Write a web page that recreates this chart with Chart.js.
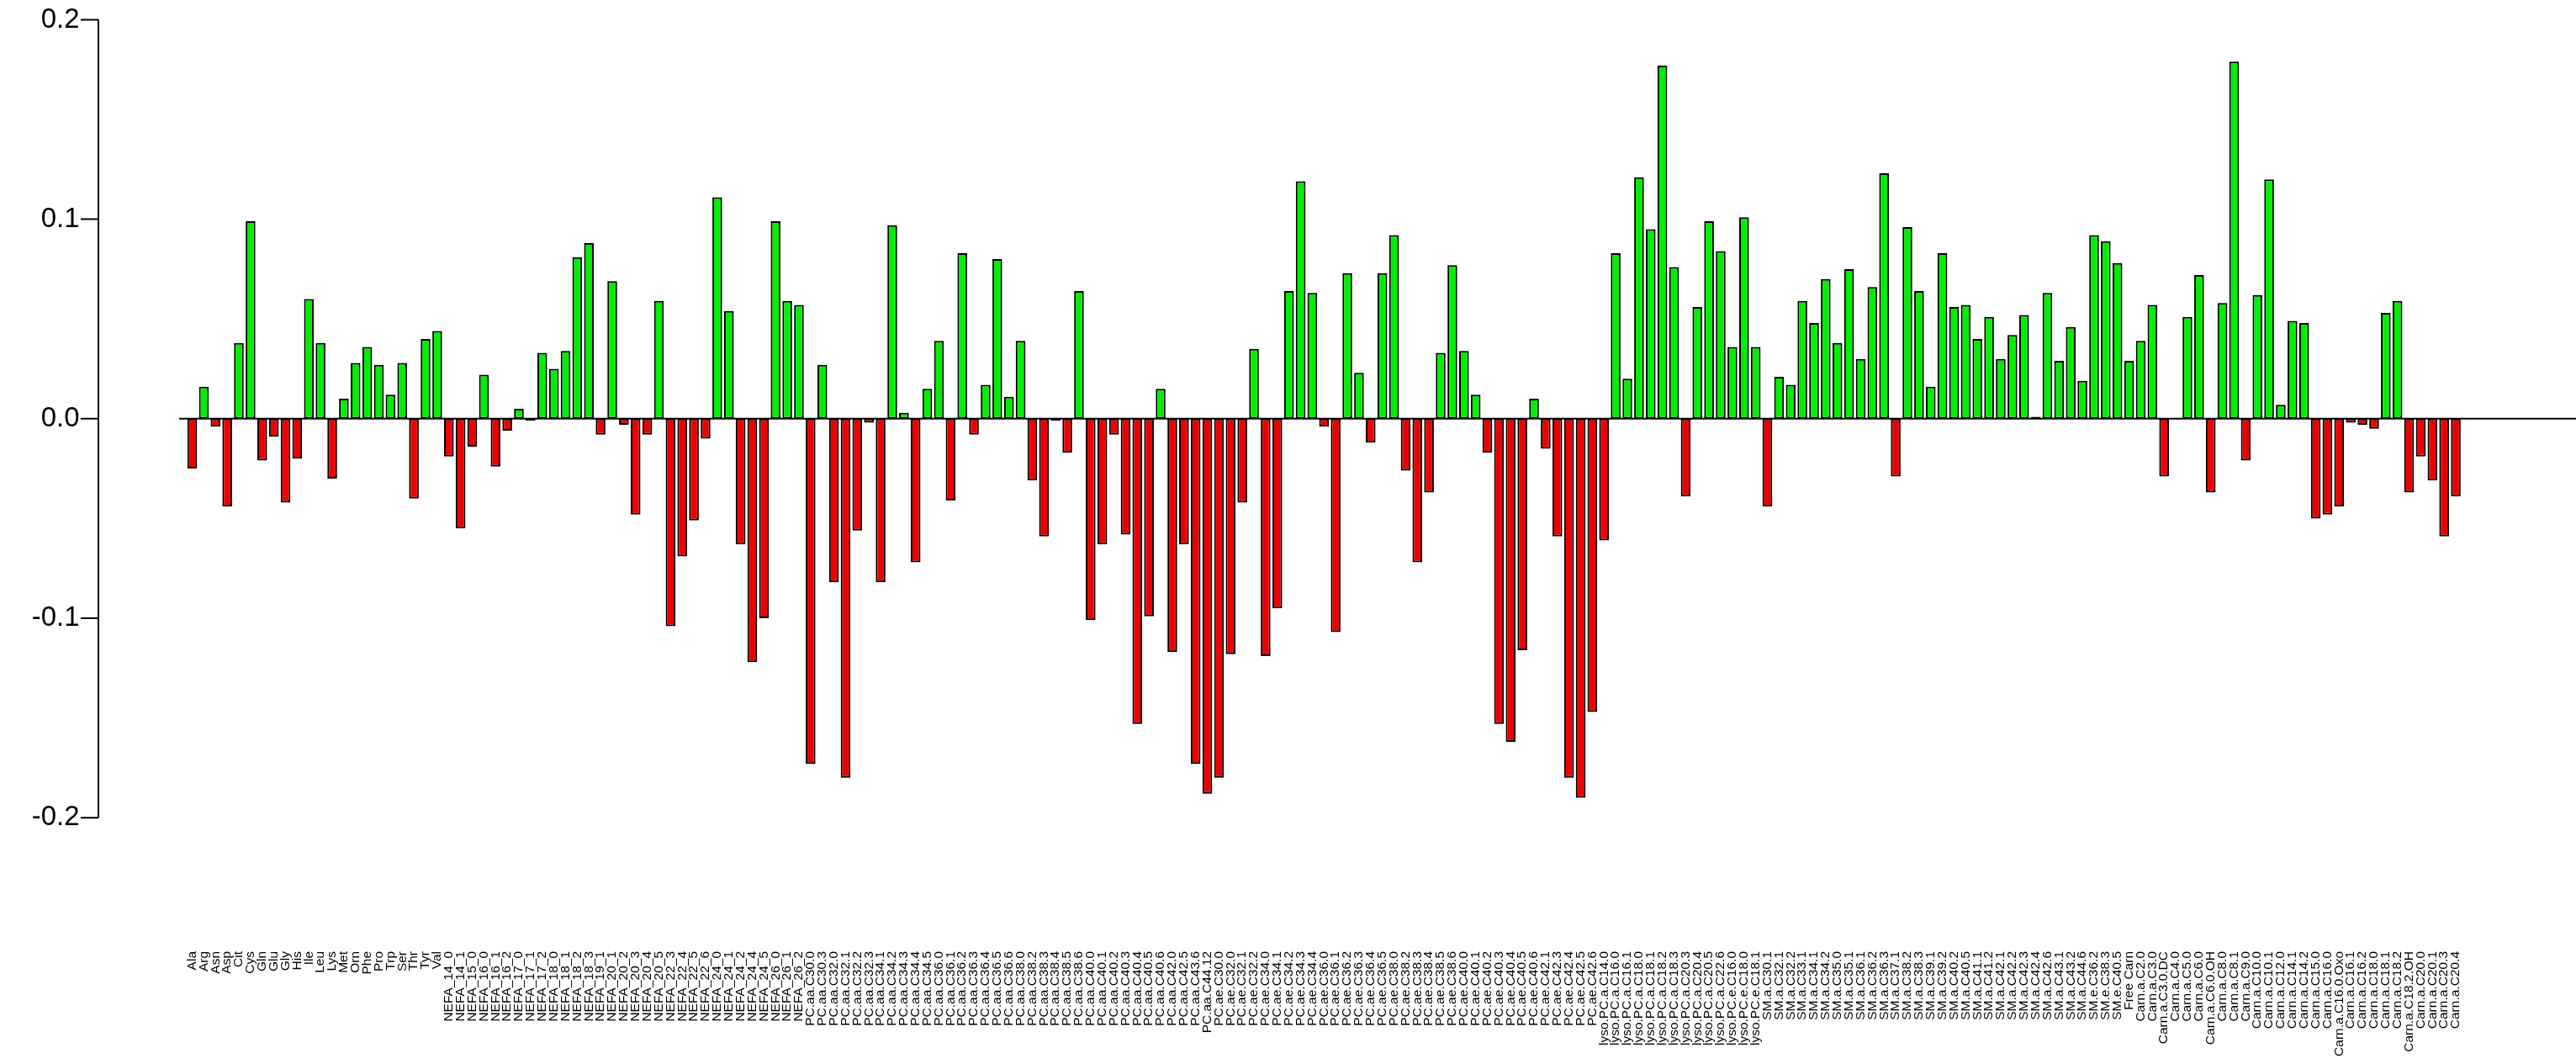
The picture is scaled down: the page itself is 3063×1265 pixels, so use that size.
<!DOCTYPE html>
<html>
<head>
<meta charset="utf-8">
<title>Loadings</title>
<script src="https://cdn.jsdelivr.net/npm/chart.js@4.4.1/dist/chart.umd.min.js"></script>
<style>
  html, body { margin: 0; padding: 0; background: #fff; }
  #wrap { width: 3063px; height: 1265px; position: relative; }
</style>
</head>
<body>
<div id="wrap"><canvas id="chart"></canvas></div>
<script>
// --- data ---
const aaLabels = ['Ala', 'Arg', 'Asn', 'Asp', 'Cit', 'Cys', 'Gln', 'Glu', 'Gly', 'His', 'Ile',
    'Leu', 'Lys', 'Met', 'Orn', 'Phe', 'Pro', 'Trp', 'Ser', 'Thr', 'Tyr', 'Val'];
const aaValues = [-0.025, 0.016, -0.004, -0.044, 0.038, 0.099, -0.021, -0.009, -0.042, -0.020, 0.060,
    0.038, -0.030, 0.010, 0.028, 0.036, 0.027, 0.012, 0.028, -0.040, 0.040, 0.044];

const nefaLabels = ['NEFA_14_0', 'NEFA_14_1', 'NEFA_15_0', 'NEFA_16_0', 'NEFA_16_1', 'NEFA_16_2',
    'NEFA_17_0', 'NEFA_17_1', 'NEFA_17_2', 'NEFA_18_0', 'NEFA_18_1', 'NEFA_18_2', 'NEFA_18_3',
    'NEFA_19_1', 'NEFA_20_1', 'NEFA_20_2', 'NEFA_20_3', 'NEFA_20_4', 'NEFA_20_5', 'NEFA_22_3',
    'NEFA_22_4', 'NEFA_22_5', 'NEFA_22_6', 'NEFA_24_0', 'NEFA_24_1', 'NEFA_24_2', 'NEFA_24_4',
    'NEFA_24_5', 'NEFA_26_0', 'NEFA_26_1', 'NEFA_26_2'];
const nefaValues = [-0.019, -0.055, -0.014, 0.022, -0.024, -0.006,
    0.005, -0.001, 0.033, 0.025, 0.034, 0.081, 0.088,
    -0.008, 0.069, -0.003, -0.048, -0.008, 0.059, -0.104,
    -0.069, -0.051, -0.010, 0.111, 0.054, -0.063, -0.122,
    -0.100, 0.099, 0.059, 0.057];

const pcaaLabels = ['PC.aa.C30.0', 'PC.aa.C30.3', 'PC.aa.C32.0', 'PC.aa.C32.1', 'PC.aa.C32.2',
    'PC.aa.C32.3', 'PC.aa.C34.1', 'PC.aa.C34.2', 'PC.aa.C34.3', 'PC.aa.C34.4', 'PC.aa.C34.5',
    'PC.aa.C36.0', 'PC.aa.C36.1', 'PC.aa.C36.2', 'PC.aa.C36.3', 'PC.aa.C36.4', 'PC.aa.C36.5',
    'PC.aa.C36.6', 'PC.aa.C38.0', 'PC.aa.C38.2', 'PC.aa.C38.3', 'PC.aa.C38.4', 'PC.aa.C38.5',
    'PC.aa.C38.6', 'PC.aa.C40.0', 'PC.aa.C40.1', 'PC.aa.C40.2', 'PC.aa.C40.3', 'PC.aa.C40.4',
    'PC.aa.C40.5', 'PC.aa.C40.6', 'PC.aa.C42.0', 'PC.aa.C42.5', 'PC.aa.C43.6', 'PC.aa.C44.12'];
const pcaaValues = [-0.173, 0.027, -0.082, -0.180, -0.056,
    -0.002, -0.082, 0.097, 0.003, -0.072, 0.015,
    0.039, -0.041, 0.083, -0.008, 0.017, 0.080,
    0.011, 0.039, -0.031, -0.059, -0.001, -0.017,
    0.064, -0.101, -0.063, -0.008, -0.058, -0.153,
    -0.099, 0.015, -0.117, -0.063, -0.173, -0.188];

const pcaeLabels = ['PC.ae.C30.0', 'PC.ae.C32.0', 'PC.ae.C32.1', 'PC.ae.C32.2', 'PC.ae.C34.0',
    'PC.ae.C34.1', 'PC.ae.C34.2', 'PC.ae.C34.3', 'PC.ae.C34.4', 'PC.ae.C36.0', 'PC.ae.C36.1',
    'PC.ae.C36.2', 'PC.ae.C36.3', 'PC.ae.C36.4', 'PC.ae.C36.5', 'PC.ae.C38.0', 'PC.ae.C38.2',
    'PC.ae.C38.3', 'PC.ae.C38.4', 'PC.ae.C38.5', 'PC.ae.C38.6', 'PC.ae.C40.0', 'PC.ae.C40.1',
    'PC.ae.C40.2', 'PC.ae.C40.3', 'PC.ae.C40.4', 'PC.ae.C40.5', 'PC.ae.C40.6', 'PC.ae.C42.1',
    'PC.ae.C42.3', 'PC.ae.C42.4', 'PC.ae.C42.5', 'PC.ae.C42.6'];
const pcaeValues = [-0.180, -0.118, -0.042, 0.035, -0.119,
    -0.095, 0.064, 0.119, 0.063, -0.004, -0.107,
    0.073, 0.023, -0.012, 0.073, 0.092, -0.026,
    -0.072, -0.037, 0.033, 0.077, 0.034, 0.012,
    -0.017, -0.153, -0.162, -0.116, 0.010, -0.015,
    -0.059, -0.180, -0.190, -0.147];

const lysoLabels = ['lyso.PC.a.C14.0', 'lyso.PC.a.C16.0', 'lyso.PC.a.C16.1', 'lyso.PC.a.C18.0',
    'lyso.PC.a.C18.1', 'lyso.PC.a.C18.2', 'lyso.PC.a.C18.3', 'lyso.PC.a.C20.3', 'lyso.PC.a.C20.4',
    'lyso.PC.a.C20.5', 'lyso.PC.a.C22.6', 'lyso.PC.e.C16.0', 'lyso.PC.e.C18.0', 'lyso.PC.e.C18.1'];
const lysoValues = [-0.061, 0.083, 0.020, 0.121,
    0.095, 0.177, 0.076, -0.039, 0.056,
    0.099, 0.084, 0.036, 0.101, 0.036];

const smLabels = ['SM.a.C30.1', 'SM.a.C32.1', 'SM.a.C32.2', 'SM.a.C33.1', 'SM.a.C34.1',
    'SM.a.C34.2', 'SM.a.C35.0', 'SM.a.C35.1', 'SM.a.C36.1', 'SM.a.C36.2', 'SM.a.C36.3',
    'SM.a.C37.1', 'SM.a.C38.2', 'SM.a.C38.3', 'SM.a.C39.1', 'SM.a.C39.2', 'SM.a.C40.2',
    'SM.a.C40.5', 'SM.a.C41.1', 'SM.a.C41.2', 'SM.a.C42.1', 'SM.a.C42.2', 'SM.a.C42.3',
    'SM.a.C42.4', 'SM.a.C42.6', 'SM.a.C43.1', 'SM.a.C43.2', 'SM.a.C44.6', 'SM.e.C36.2',
    'SM.e.C38.3', 'SM.e.C40.5'];
const smValues = [-0.044, 0.021, 0.017, 0.059, 0.048,
    0.070, 0.038, 0.075, 0.030, 0.066, 0.123,
    -0.029, 0.096, 0.064, 0.016, 0.083, 0.056,
    0.057, 0.040, 0.051, 0.030, 0.042, 0.052,
    0.001, 0.063, 0.029, 0.046, 0.019, 0.092,
    0.089, 0.078];

const carnLabels = ['Free Carn', 'Carn.a.C2.0', 'Carn.a.C3.0', 'Carn.a.C3.0.DC', 'Carn.a.C4.0',
    'Carn.a.C5.0', 'Carn.a.C6.0', 'Carn.a.C6.0.OH', 'Carn.a.C8.0', 'Carn.a.C8.1', 'Carn.a.C9.0',
    'Carn.a.C10.0', 'Carn.a.C10.1', 'Carn.a.C12.0', 'Carn.a.C14.1', 'Carn.a.C14.2', 'Carn.a.C15.0',
    'Carn.a.C16.0', 'Carn.a.C16.0.Oxo', 'Carn.a.C16.1', 'Carn.a.C16.2', 'Carn.a.C18.0',
    'Carn.a.C18.1', 'Carn.a.C18.2', 'Carn.a.C18.2.OH', 'Carn.a.C20.0', 'Carn.a.C20.1',
    'Carn.a.C20.3', 'Carn.a.C20.4'];
const carnValues = [0.029, 0.039, 0.057, -0.029, 0.0003,
    0.051, 0.072, -0.037, 0.058, 0.179, -0.021,
    0.062, 0.120, 0.007, 0.049, 0.048, -0.050,
    -0.048, -0.044, -0.002, -0.003, -0.005,
    0.053, 0.059, -0.037, -0.019, -0.031,
    -0.059, -0.039];

const yTicks = [-0.2, -0.1, 0.0, 0.1, 0.2];

const labels = [].concat(aaLabels, nefaLabels, pcaaLabels, pcaeLabels, lysoLabels, smLabels, carnLabels);
const values = [].concat(aaValues, nefaValues, pcaaValues, pcaeValues, lysoValues, smValues, carnValues);

const FONT = '"Liberation Sans", Arial, Helvetica, sans-serif';
const AXIS_X = 117;      // where the R-style y axis line sits
const TICK_LEN = 21;
const ZERO_START = 213;  // the h=0 line starts just left of the first bar

// R-style axis: line only over the tick range, plus the abline(h = 0)
const rAxes = {
    id: 'rAxes',
    afterDatasetsDraw(chart) {
        const y = chart.scales.y;
        const c = chart.ctx;
        c.save();
        c.strokeStyle = '#000';
        c.lineWidth = 2;
        const y0 = y.getPixelForValue(0);
        c.beginPath();
        c.moveTo(ZERO_START, y0);
        c.lineTo(chart.width, y0);
        c.moveTo(AXIS_X, y.getPixelForValue(yTicks[yTicks.length - 1]));
        c.lineTo(AXIS_X, y.getPixelForValue(yTicks[0]));
        yTicks.forEach(v => {
            const p = y.getPixelForValue(v);
            c.moveTo(AXIS_X - TICK_LEN, p);
            c.lineTo(AXIS_X, p);
        });
        c.stroke();
        c.restore();
    }
};

new Chart(document.getElementById('chart'), {
    type: 'bar',
    data: {
        labels: labels,
        datasets: [{
            data: values,
            backgroundColor: values.map(v => v > 0 ? '#00EE00' : '#EE0000'),
            borderColor: '#000',
            borderWidth: 2,
            borderSkipped: false,
            barPercentage: 1,
            categoryPercentage: 1 / 1.2,
        }]
    },
    options: {
        responsive: true,
        maintainAspectRatio: false,
        animation: false,
        devicePixelRatio: 1,
        layout: { padding: { left: 0, right: 136, top: 0, bottom: 0 } },
        plugins: {
            legend: { display: false },
            tooltip: { enabled: false },
        },
        scales: {
            x: {
                offset: true,
                grid: { display: false, drawTicks: false },
                border: { display: false },
                ticks: {
                    autoSkip: false,
                    maxRotation: 90,
                    minRotation: 90,
                    padding: 6,
                    color: '#000',
                    font: { size: 15.5, family: FONT },
                },
                afterFit: s => { s.height = 140; s.paddingLeft = 0; s.paddingRight = 0; },
            },
            y: {
                min: -0.26442,
                max: 0.20987,
                grid: { display: false, drawTicks: false },
                border: { display: false },
                afterBuildTicks: s => { s.ticks = yTicks.map(v => ({ value: v })); },
                ticks: {
                    padding: 127,
                    color: '#000',
                    font: { size: 33, family: FONT },
                    callback: v => v.toFixed(1),
                },
                afterFit: s => { s.width = 221.6; s.paddingTop = 0; s.paddingBottom = 0; },
            }
        }
    },
    plugins: [rAxes]
});
</script>
</body>
</html>
